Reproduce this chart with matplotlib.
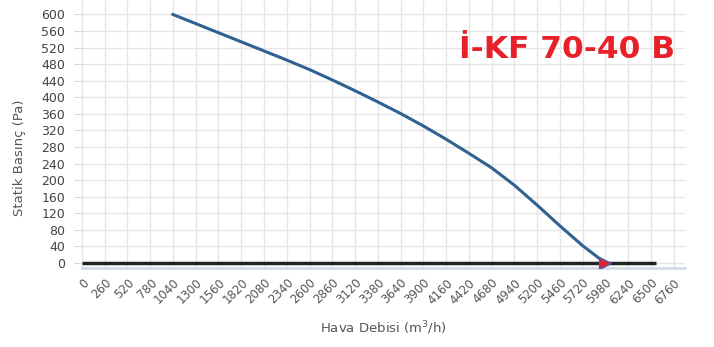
import matplotlib.pyplot as plt
import numpy as np

# fan curve
flow = [1040, 1300, 1560, 1820, 2080, 2340, 2600, 2860, 3120, 3380,
        3640, 3900, 4160, 4420, 4680, 4940, 5200, 5460, 5720, 5980]
pressure = [600, 578, 556, 534, 512, 490, 467, 442, 416, 389,
            361, 331, 299, 265, 230, 188, 140, 90, 42, 0]
zero_x = [0, 6560]
zero_y = [0, 0]
op_x = [5980]
op_y = [0]

xticks = list(range(0, 6761, 260))
yticks = list(range(0, 601, 40))
title = "İ-KF 70-40 B"

fig = plt.figure(figsize=(7.14, 3.47), dpi=100)
ax = fig.add_axes([0.1148, 0.2277, 0.8445, 0.7723])

ax.set_xlim(0, 6890)
ax.set_ylim(-12, 635)
ax.set_xticks(xticks)
ax.set_yticks(yticks)
ax.grid(True, color='#e6e6e6', lw=1.0)
ax.set_axisbelow(True)

for s in ['top', 'right', 'left']:
    ax.spines[s].set_visible(False)
ax.spines['bottom'].set_color('#d3dbe4')
ax.spines['bottom'].set_linewidth(2)

ax.plot(zero_x, zero_y, color='#222222', lw=2.5, solid_capstyle='butt', zorder=3)
ax.plot(flow, pressure, color='#2f6191', lw=2.2, zorder=4)
ax.plot(op_x, op_y, marker='>', ms=8, color='#e8202a', mec='#4a5fa8', mew=1,
        ls='none', zorder=5)

ax.tick_params(axis='y', length=6, color='#d0d8e0', labelsize=9,
               labelcolor='#444444', pad=6)
ax.tick_params(axis='x', length=0, labelsize=8.5, labelcolor='#555555', pad=6)
for lab in ax.get_xticklabels():
    lab.set_rotation(45)
    lab.set_ha('right')
    lab.set_va('top')
    lab.set_rotation_mode('anchor')

ax.set_xlabel('Hava Debisi (m$^3$/h)', fontsize=9.5, color='#555555')
ax.xaxis.set_label_coords(0.5, -0.19)
ax.set_ylabel('Statik Basınç (Pa)', fontsize=9.5, color='#555555')
ax.yaxis.set_label_coords(-0.092, 0.41)

fig.text(0.794, 0.856, title, fontsize=22.5, fontweight='heavy', color='#e8202a',
         ha='center', va='center', family='DejaVu Sans')

fig.savefig('out.png', dpi=100)
